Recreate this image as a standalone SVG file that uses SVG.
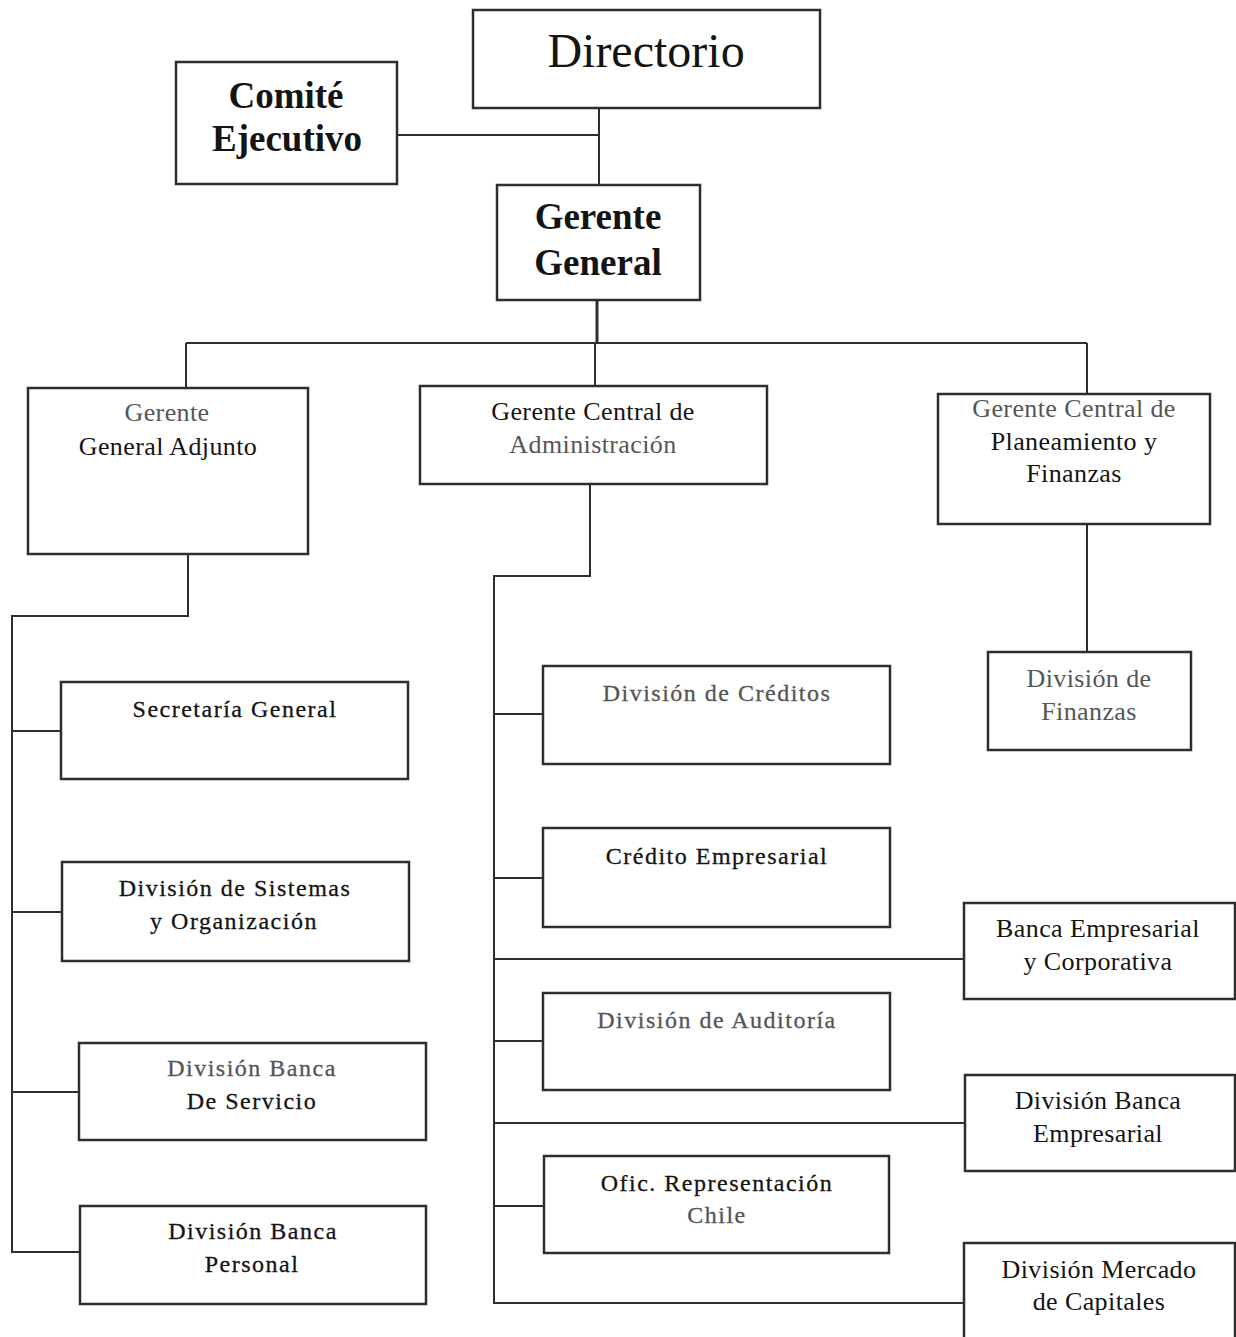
<svg xmlns="http://www.w3.org/2000/svg" width="1236" height="1337" viewBox="0 0 1236 1337">
  <style>
    .box { fill: #ffffff; stroke: #2e2e2e; stroke-width: 2.5; }
    .wire { fill: none; stroke: #2e2e2e; stroke-width: 2; }
    text { font-family: "Liberation Serif", "Times New Roman", serif; text-anchor: middle; fill: #141414; }
    .top { font-size: 48px; }
    .bold { font-size: 37px; font-weight: bold; }
    .narrow { font-size: 26px; letter-spacing: 0.4px; }
    .wide { font-size: 24px; letter-spacing: 1.5px; stroke: #141414; stroke-width: 0.3px; }
    .grey { fill: #555555; }
    .wide.grey { stroke: #555555; }
  </style>

  <rect width="1236" height="1337" fill="#ffffff"/>

  <!-- connector lines -->
  <g id="connectors">
    <!-- Directorio / Comité / Gerente General -->
    <path class="wire" d="M599 108 V185"/>
    <path class="wire" d="M397 135 H599"/>
    <!-- Gerente General to the three central managers -->
    <path class="wire" d="M597 300 V343" style="stroke-width:3"/>
    <path class="wire" d="M186 343 H1087"/>
    <path class="wire" d="M186 343 V388"/>
    <path class="wire" d="M595 343 V386"/>
    <path class="wire" d="M1087 343 V394"/>
    <!-- Planeamiento y Finanzas to División de Finanzas -->
    <path class="wire" d="M1087 524 V652"/>
    <!-- Gerente General Adjunto branch -->
    <path class="wire" d="M188 554 V616 H12 V1252 H80"/>
    <path class="wire" d="M12 731 H61"/>
    <path class="wire" d="M12 912 H62"/>
    <path class="wire" d="M12 1092 H79"/>
    <!-- Gerente Central de Administración branch -->
    <path class="wire" d="M590 484 V576 H494 V1303 H964"/>
    <path class="wire" d="M494 714 H543"/>
    <path class="wire" d="M494 878 H543"/>
    <path class="wire" d="M494 959 H964"/>
    <path class="wire" d="M494 1041 H543"/>
    <path class="wire" d="M494 1123 H965"/>
    <path class="wire" d="M494 1206 H544"/>
  </g>

  <g id="directorio">
    <rect class="box" x="473" y="10" width="347" height="98"/>
    <text class="top" x="646" y="67">Directorio</text>
  </g>

  <g id="comite-ejecutivo">
    <rect class="box" x="176" y="62" width="221" height="122"/>
    <text class="bold" x="286" y="108">Comité</text>
    <text class="bold" x="287" y="151">Ejecutivo</text>
  </g>

  <g id="gerente-general">
    <rect class="box" x="497" y="185" width="203" height="115"/>
    <text class="bold" x="598" y="229">Gerente</text>
    <text class="bold" x="598" y="275">General</text>
  </g>

  <g id="gerente-general-adjunto">
    <rect class="box" x="28" y="388" width="280" height="166"/>
    <text class="narrow grey" x="167" y="421">Gerente</text>
    <text class="narrow" x="168" y="455">General Adjunto</text>
  </g>

  <g id="gerente-central-administracion">
    <rect class="box" x="420" y="386" width="347" height="98"/>
    <text class="narrow" x="593" y="420">Gerente Central de</text>
    <text class="narrow grey" x="593" y="453">Administración</text>
  </g>

  <g id="gerente-central-planeamiento">
    <rect class="box" x="938" y="394" width="272" height="130"/>
    <text class="narrow grey" x="1074" y="417">Gerente Central de</text>
    <text class="narrow" x="1074" y="450">Planeamiento y</text>
    <text class="narrow" x="1074" y="482">Finanzas</text>
  </g>

  <g id="division-finanzas">
    <rect class="box" x="988" y="652" width="203" height="98"/>
    <text class="narrow grey" x="1089" y="687">División de</text>
    <text class="narrow grey" x="1089" y="720">Finanzas</text>
  </g>

  <g id="secretaria-general">
    <rect class="box" x="61" y="682" width="347" height="97"/>
    <text class="wide" x="235" y="717">Secretaría General</text>
  </g>

  <g id="division-sistemas">
    <rect class="box" x="62" y="862" width="347" height="99"/>
    <text class="wide" x="235" y="896">División de Sistemas</text>
    <text class="wide" x="234" y="929">y Organización</text>
  </g>

  <g id="division-banca-servicio">
    <rect class="box" x="79" y="1043" width="347" height="97"/>
    <text class="wide grey" x="252" y="1076">División Banca</text>
    <text class="wide" x="252" y="1109">De Servicio</text>
  </g>

  <g id="division-banca-personal">
    <rect class="box" x="80" y="1206" width="346" height="98"/>
    <text class="wide" x="253" y="1239">División Banca</text>
    <text class="wide" x="252" y="1272">Personal</text>
  </g>

  <g id="division-creditos">
    <rect class="box" x="543" y="666" width="347" height="98"/>
    <text class="wide grey" x="717" y="701">División de Créditos</text>
  </g>

  <g id="credito-empresarial">
    <rect class="box" x="543" y="828" width="347" height="99"/>
    <text class="wide" x="717" y="864">Crédito Empresarial</text>
  </g>

  <g id="division-auditoria">
    <rect class="box" x="543" y="993" width="347" height="97"/>
    <text class="wide grey" x="717" y="1028">División de Auditoría</text>
  </g>

  <g id="ofic-representacion-chile">
    <rect class="box" x="544" y="1156" width="345" height="97"/>
    <text class="wide" x="717" y="1191">Ofic. Representación</text>
    <text class="wide grey" x="717" y="1223">Chile</text>
  </g>

  <g id="banca-empresarial-corporativa">
    <rect class="box" x="964" y="903" width="271" height="96"/>
    <text class="narrow" x="1098" y="937">Banca Empresarial</text>
    <text class="narrow" x="1098" y="970">y Corporativa</text>
  </g>

  <g id="division-banca-empresarial">
    <rect class="box" x="965" y="1075" width="270" height="96"/>
    <text class="narrow" x="1098" y="1109">División Banca</text>
    <text class="narrow" x="1098" y="1142">Empresarial</text>
  </g>

  <g id="division-mercado-capitales">
    <rect class="box" x="964" y="1243" width="271" height="110"/>
    <text class="narrow" x="1099" y="1278">División Mercado</text>
    <text class="narrow" x="1099" y="1310">de Capitales</text>
  </g>
</svg>
